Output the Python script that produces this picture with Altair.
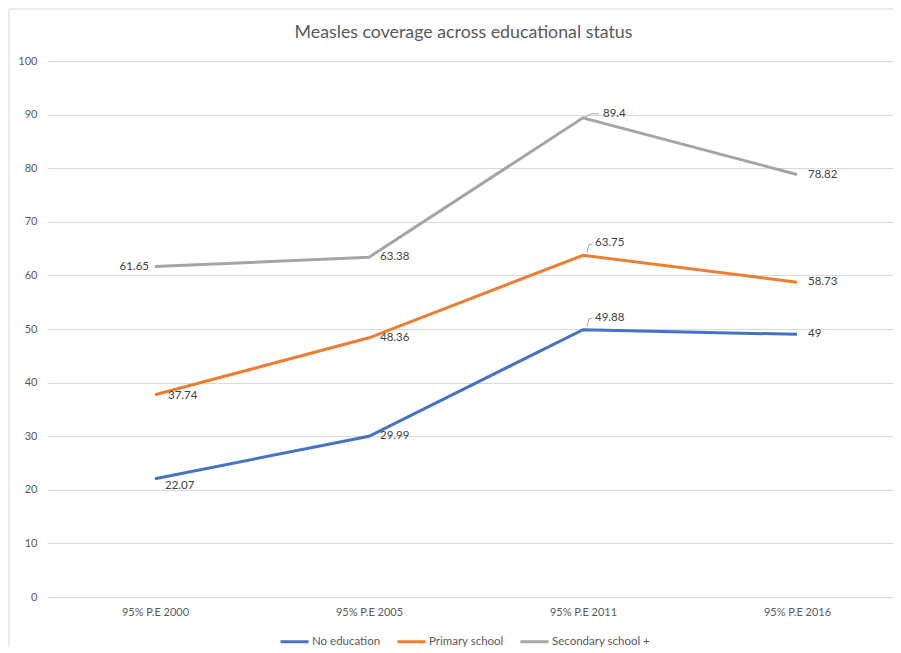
import altair as alt
import pandas as pd

periods = ["95% P.E 2000", "95% P.E 2005", "95% P.E 2011", "95% P.E 2016"]
series_names = ["No education", "Primary school", "Secondary school +"]
no_education = [22.07, 29.99, 49.88, 49]
primary_school = [37.74, 48.36, 63.75, 58.73]
secondary_school = [61.65, 63.38, 89.4, 78.82]
colors = ["#4472C4", "#ED7D31", "#A5A5A5"]

rows = []
for name, vals in zip(series_names, [no_education, primary_school, secondary_school]):
    for p, v in zip(periods, vals):
        rows.append({"period": p, "series": name, "value": v, "label": f"{v:g}"})
df = pd.DataFrame(rows)

FONT = "Lato"
W, H = 845, 536

x_enc = alt.X("period:N", sort=periods,
              scale=alt.Scale(type="point", domain=periods, padding=0.4743, align=0.527),
              axis=alt.Axis(title=None, labelAngle=0, domain=False, ticks=False,
                            grid=False, labelPadding=9, labelFontSize=11,
                            labelColor="#595959", labelFont=FONT))
y_enc = alt.Y("value:Q",
              scale=alt.Scale(domain=[0, 100], nice=False),
              axis=alt.Axis(title=None, values=list(range(0, 101, 10)), domain=False,
                            ticks=False, grid=True, gridColor="#D9D9D9",
                            labelPadding=11, labelFontSize=11, labelColor="#595959",
                            labelFont=FONT))
color_enc = alt.Color("series:N", sort=series_names,
                      scale=alt.Scale(domain=series_names, range=colors),
                      legend=alt.Legend(title=None, orient="none", direction="horizontal",
                                        legendX=231, legendY=565, symbolType="stroke",
                                        symbolSize=784, symbolStrokeWidth=3,
                                        labelFontSize=11.5, labelColor="#595959",
                                        labelFont=FONT, labelOffset=2, columnPadding=10))

base = alt.Chart(df)

lines = base.mark_line(strokeWidth=3).encode(x=x_enc, y=y_enc, color=color_enc)

def label_layer(labels, dx, dy, align="left"):
    return base.transform_filter(
        alt.FieldOneOfPredicate(field="label", oneOf=labels)
    ).mark_text(align=align, baseline="middle", dx=dx, dy=dy, fontSize=11.5,
                color="#404040", font=FONT).encode(
        x=alt.X("period:N", sort=periods), y="value:Q", text="label:N")

labels = (
    label_layer(["63.38", "48.36", "29.99", "78.82", "58.73", "49"], 11, 0)
    + label_layer(["37.74"], 13, 1)
    + label_layer(["22.07"], 10, 7)
    + label_layer(["61.65"], -6, 0, align="right")
    + label_layer(["89.4"], 20, -4)
    + label_layer(["63.75", "49.88"], 12, -12)
)

def leader(labels, x0, y0, x1, y1):
    return base.transform_filter(
        alt.FieldOneOfPredicate(field="label", oneOf=labels)
    ).mark_rule(color="#A5A5A5", strokeWidth=1, xOffset=x0, yOffset=y0,
                x2Offset=x1, y2Offset=y1).encode(
        x=alt.X("period:N", sort=periods), y="value:Q",
        x2="period:N", y2="value:Q")

leaders = (
    leader(["89.4"], 2, -1, 9, -4) + leader(["89.4"], 9, -4, 16, -4)
    + leader(["63.75", "49.88"], 4, -3, 6, -11) + leader(["63.75", "49.88"], 6, -11, 9, -11)
)

border = (
    alt.Chart(pd.DataFrame({"k": [0]})).mark_rule(color="#D9D9D9", strokeWidth=1).encode(
        x=alt.value(-39), y=alt.value(-52), y2=alt.value(H + 60))
    + alt.Chart(pd.DataFrame({"k": [0]})).mark_rule(color="#D9D9D9", strokeWidth=1).encode(
        x=alt.value(-39), x2=alt.value(W + 20), y=alt.value(-52))
)

chart = (border + lines + leaders + labels).properties(
    width=W, height=H,
    title=alt.TitleParams("Measles coverage across educational status", fontSize=17.8,
                          font=FONT, fontWeight="normal", color="#595959",
                          anchor="middle", offset=-33, dx=-7),
    autosize=alt.AutoSizeParams(type="none"),
    padding={"left": 40, "top": 53, "right": 0, "bottom": 50},
).configure(background="white").configure_view(stroke="transparent", strokeWidth=0)

chart.save("out.html", embed_options={"renderer": "svg", "actions": False})
